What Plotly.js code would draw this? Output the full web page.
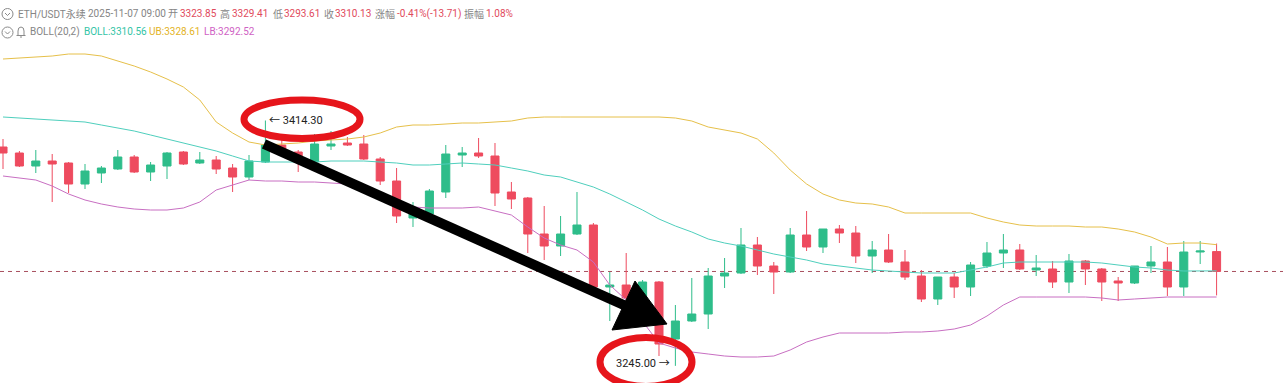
<!DOCTYPE html>
<html><head><meta charset="utf-8">
<script src="https://cdn.plot.ly/plotly-3.0.1.min.js"></script>
<style>html,body{margin:0;padding:0;background:#fff;overflow:hidden}#chart{width:1283px;height:383px}</style>
</head><body><div id="chart"></div>
<script>
// ---- data (ETH/USDT perpetual, hourly candles) ----
const opens = [3396.02,3391.88,3382.91,3386.36,3384.98,3370.49,3378.08,3380.84,3389.12,3378.77,3382.91,3392.57,3384.98,3387.05,3381.53,3375.32,3385.67,3397.40,3392.57,3385.67,3396.71,3398.78,3398.09,3387.74,3372.56,3347.03,3349.79,3364.97,3390.50,3391.88,3389.81,3364.97,3360.83,3335.99,3327.71,3335.99,3342.20,3299.42,3300.80,3291.83,3302.87,3263.54,3275.96,3280.79,3307.01,3309.08,3328.40,3313.91,3309.77,3335.30,3327.02,3339.44,3336.68,3320.81,3324.95,3316.67,3307.01,3291.14,3306.32,3299.42,3313.91,3322.88,3324.95,3311.15,3311.84,3302.87,3317.36,3311.84,3303.56,3302.18,3313.91,3316.67,3299.42,3323.57,3323.85];
const highs = [3401.54,3393.26,3393.95,3391.19,3385.67,3384.29,3382.91,3393.95,3390.50,3385.67,3392.57,3393.26,3392.57,3389.81,3384.29,3390.50,3414.30,3401.54,3393.95,3404.99,3407.06,3402.92,3404.30,3389.12,3381.53,3358.07,3367.04,3397.40,3396.02,3402.23,3398.78,3371.87,3361.52,3355.31,3348.41,3364.97,3343.58,3309.77,3322.88,3304.25,3303.56,3287.00,3305.63,3312.53,3319.43,3340.13,3333.92,3316.67,3340.13,3351.86,3339.44,3342.20,3341.51,3331.16,3335.99,3324.95,3311.15,3306.32,3309.08,3316.67,3330.47,3335.99,3329.09,3321.50,3317.36,3322.19,3318.05,3312.53,3306.32,3313.91,3327.71,3327.02,3331.16,3331.16,3329.41];
const lows = [3380.84,3382.22,3378.08,3358.07,3364.28,3367.04,3371.18,3380.15,3378.08,3372.56,3373.94,3383.60,3384.29,3377.39,3364.97,3373.25,3384.98,3391.88,3378.77,3384.98,3393.95,3396.71,3387.05,3369.80,3343.58,3340.82,3349.10,3360.83,3382.22,3388.43,3355.31,3353.24,3322.88,3318.05,3320.81,3335.30,3298.73,3275.96,3290.45,3290.45,3251.81,3245.00,3275.27,3270.44,3298.73,3308.39,3307.70,3294.59,3309.08,3324.26,3322.88,3329.78,3315.98,3309.08,3315.98,3304.25,3289.07,3287.00,3291.83,3293.21,3312.53,3312.53,3311.15,3307.01,3298.73,3295.28,3300.80,3289.76,3289.76,3301.49,3309.08,3293.21,3293.21,3315.29,3293.61];
const closes = [3391.88,3382.91,3386.36,3384.29,3370.49,3379.46,3381.53,3389.12,3378.77,3383.60,3391.88,3384.29,3387.05,3380.84,3375.32,3386.36,3397.40,3392.57,3385.67,3398.09,3398.09,3397.40,3387.74,3372.56,3348.41,3350.48,3365.66,3391.19,3391.88,3389.81,3364.28,3360.14,3335.99,3327.71,3335.99,3342.20,3299.42,3300.80,3291.83,3302.87,3260.09,3275.96,3280.79,3307.01,3309.08,3328.40,3313.91,3309.77,3335.30,3327.02,3339.44,3336.68,3320.81,3324.95,3316.67,3306.32,3291.14,3306.32,3299.42,3314.60,3322.88,3324.95,3311.84,3312.53,3302.87,3317.36,3311.84,3302.87,3302.18,3313.91,3316.67,3299.42,3323.57,3324.26,3310.13];
const bollUpper = [3456.74,3457.43,3458.12,3458.81,3460.19,3460.19,3458.81,3455.36,3451.91,3447.77,3442.94,3437.42,3428.45,3413.27,3405.68,3399.47,3397.40,3398.09,3398.78,3400.16,3400.85,3401.54,3402.92,3405.68,3409.82,3411.20,3411.20,3411.89,3412.58,3412.58,3413.27,3413.96,3416.03,3416.72,3416.72,3416.72,3416.72,3416.72,3416.72,3416.72,3416.72,3416.03,3413.96,3409.82,3407.75,3405.68,3401.54,3391.88,3380.15,3370.49,3363.59,3359.45,3357.38,3356.69,3354.62,3350.48,3350.48,3350.48,3350.48,3350.48,3347.03,3344.27,3342.20,3341.51,3341.51,3341.51,3340.82,3340.82,3339.44,3337.37,3333.92,3329.09,3329.78,3329.78,3328.61];
const bollMid = [3416.72,3416.03,3415.34,3414.65,3413.96,3413.27,3411.20,3409.13,3407.06,3404.30,3401.54,3398.78,3396.02,3393.26,3389.81,3386.36,3385.67,3385.67,3385.67,3385.67,3386.36,3386.36,3386.36,3385.67,3384.98,3383.60,3383.60,3384.29,3384.98,3384.29,3383.60,3381.53,3379.46,3376.70,3375.32,3371.87,3368.42,3363.59,3358.07,3352.55,3346.34,3341.51,3337.37,3332.54,3329.78,3327.71,3324.95,3322.19,3320.12,3318.05,3315.29,3313.91,3312.53,3311.15,3310.46,3309.77,3309.08,3309.08,3309.08,3311.15,3313.22,3315.98,3316.67,3316.67,3316.67,3316.67,3316.67,3315.98,3314.60,3313.22,3312.53,3311.15,3310.46,3310.46,3310.56];
const bollLower = [3376.01,3374.63,3373.25,3369.11,3363.59,3359.45,3356.69,3354.62,3353.24,3352.55,3352.55,3353.93,3358.07,3366.35,3369.80,3373.25,3372.56,3372.56,3371.87,3371.87,3371.18,3370.49,3368.42,3364.97,3359.45,3354.62,3353.93,3353.93,3353.93,3354.62,3351.86,3349.10,3340.82,3333.23,3328.40,3324.95,3316.67,3300.80,3290.45,3275.96,3260.78,3257.33,3254.57,3253.19,3251.81,3251.12,3251.12,3251.81,3255.95,3261.47,3264.92,3267.68,3267.68,3267.68,3267.68,3268.37,3268.37,3269.06,3270.44,3273.20,3279.41,3287.00,3292.52,3292.52,3292.52,3292.52,3292.52,3291.83,3290.45,3291.14,3291.83,3292.52,3292.52,3292.52,3292.52];
const peakPrice = 3414.30, peakIndex = 16;
const troughPrice = 3245.00, troughIndex = 41;
const lastClose = 3310.13;
const headerRow1 = [
  ['ETH/USDT永续', 'label'], ['2025-11-07 09:00', 'label'],
  ['开', 'label'], ['3323.85', 'value'], ['高', 'label'], ['3329.41', 'value'],
  ['低', 'label'], ['3293.61', 'value'], ['收', 'label'], ['3310.13', 'value'],
  ['涨幅', 'label'], ['-0.41%(-13.71)', 'value'], ['振幅', 'label'], ['1.08%', 'value']
];
const headerRow2 = [
  ['BOLL(20,2)', 'label'], ['BOLL:3310.56', 'mid'], ['UB:3328.61', 'up'], ['LB:3292.52', 'low']
];

// ---- styling / layout (positions in pixels of the 1283x383 page) ----
const W = 1283, H = 383;
const X = v => v / W, Y = v => 1 - v / H;
const GREEN = '#2ebd8a', RED = '#ee4b5f';
const C_MID = '#4fcfbd', C_UP = '#e6c04a', C_LOW = '#c86fc2';
const TXT = {label: '#858585', value: '#df4a5c', mid: '#34c4a6', up: '#e3b326', low: '#cf62c4'};
const row1X = [17, 87, 167, 179, 219, 231, 272, 283, 323, 334, 374, 396, 463, 485];
const row2X = [29, 83, 148, 203];
const FONT = 'Roboto, "Noto Sans CJK SC", sans-serif';

const idx = opens.map((_, i) => i);
const traces = [
  {type: 'scatter', mode: 'lines', x: idx, y: bollUpper, line: {color: C_UP, width: 1}, hoverinfo: 'skip'},
  {type: 'scatter', mode: 'lines', x: idx, y: bollMid, line: {color: C_MID, width: 1}, hoverinfo: 'skip'},
  {type: 'scatter', mode: 'lines', x: idx, y: bollLower, line: {color: C_LOW, width: 1}, hoverinfo: 'skip'},
  {type: 'candlestick', x: idx, open: opens, high: highs, low: lows, close: closes,
   increasing: {line: {color: GREEN, width: 1}, fillcolor: GREEN},
   decreasing: {line: {color: RED, width: 1}, fillcolor: RED},
   whiskerwidth: 0, hoverinfo: 'skip'}
];

const annotations = [];
headerRow1.forEach((t, i) => annotations.push({xref: 'paper', yref: 'paper', x: X(row1X[i]), y: Y(14),
  xanchor: 'left', yanchor: 'middle', showarrow: false, borderpad: 0, text: t[0], font: {family: FONT, size: 10, color: TXT[t[1]]}}));
headerRow2.forEach((t, i) => annotations.push({xref: 'paper', yref: 'paper', x: X(row2X[i]), y: Y(32),
  xanchor: 'left', yanchor: 'middle', showarrow: false, borderpad: 0, text: t[0], font: {family: FONT, size: 10, color: TXT[t[1]]}}));
annotations.push({xref: 'x', yref: 'y', x: peakIndex, y: peakPrice, xshift: 2, xanchor: 'left', yanchor: 'middle',
  showarrow: false, text: '← ' + peakPrice.toFixed(2), font: {family: FONT, size: 11, color: '#222'}});
annotations.push({xref: 'x', yref: 'y', x: troughIndex, y: troughPrice, xshift: -3, yshift: 2, xanchor: 'right', yanchor: 'middle',
  showarrow: false, text: troughPrice.toFixed(2) + ' →', font: {family: FONT, size: 11, color: '#222'}});

function pathPx(pts) {
  return pts.map(p => p.length === 1 ? p[0] : p[0] + X(p[1]) + ',' + Y(p[2])).join(' ');
}
const bellPath = 'M' + X(16.5) + ',' + Y(35.5) + ' L' + X(25.5) + ',' + Y(35.5) +
  ' M' + X(18) + ',' + Y(35.5) + ' L' + X(18) + ',' + Y(31) + ' Q' + X(18) + ',' + Y(27) + ' ' + X(21) + ',' + Y(27) +
  ' Q' + X(24) + ',' + Y(27) + ' ' + X(24) + ',' + Y(31) + ' L' + X(24) + ',' + Y(35.5) +
  ' M' + X(20) + ',' + Y(37) + ' L' + X(22) + ',' + Y(37);
const shapes = [
  {type: 'line', xref: 'paper', yref: 'y', x0: 0, x1: 1, y0: lastClose, y1: lastClose, layer: 'below',
   line: {color: '#a8505e', width: 1, dash: '4px,4px'}},
  // header icons
  {type: 'circle', xref: 'paper', yref: 'paper', x0: X(2), x1: X(13), y0: Y(8.5), y1: Y(19.5), line: {color: '#8a8a8a', width: 1}},
  {type: 'path', xref: 'paper', yref: 'paper', path: pathPx([['M', 5, 13], ['L', 7.5, 15.5], ['L', 10, 13]]), line: {color: '#8a8a8a', width: 1}},
  {type: 'circle', xref: 'paper', yref: 'paper', x0: X(2), x1: X(13), y0: Y(27), y1: Y(38), line: {color: '#8a8a8a', width: 1}},
  {type: 'path', xref: 'paper', yref: 'paper', path: pathPx([['M', 5, 31.5], ['L', 7.5, 34], ['L', 10, 31.5]]), line: {color: '#8a8a8a', width: 1}},
  {type: 'path', xref: 'paper', yref: 'paper', path: bellPath, line: {color: '#8a8a8a', width: 1}},
  // red ellipses
  {type: 'circle', xref: 'paper', yref: 'paper', x0: X(244), x1: X(360), y0: Y(100), y1: Y(138.5), line: {color: '#e6151b', width: 7}},
  {type: 'circle', xref: 'paper', yref: 'paper', x0: X(600), x1: X(692), y0: Y(337.5), y1: Y(386.5), line: {color: '#e6151b', width: 7}},
  // black arrow
  {type: 'line', xref: 'paper', yref: 'paper', x0: X(264), y0: Y(144), x1: X(626), y1: Y(306), line: {color: '#000', width: 10}},
  {type: 'path', xref: 'paper', yref: 'paper', path: pathPx([['M', 612, 330], ['L', 635, 281], ['L', 667, 324], ['Z']]),
   fillcolor: '#000', line: {color: '#000', width: 1}}
];

const layout = {
  width: W, height: H, margin: {l: 0, r: 0, t: 0, b: 0, pad: 0},
  paper_bgcolor: '#fff', plot_bgcolor: '#fff', showlegend: false,
  boxgap: 0.3,
  xaxis: {range: [-0.183, 78.05], visible: false, rangeslider: {visible: false}, fixedrange: true},
  yaxis: {range: [3233.18, 3497.45], visible: false, fixedrange: true},
  annotations: annotations, shapes: shapes
};
Plotly.newPlot('chart', traces, layout, {displayModeBar: false, staticPlot: true});
</script></body></html>
